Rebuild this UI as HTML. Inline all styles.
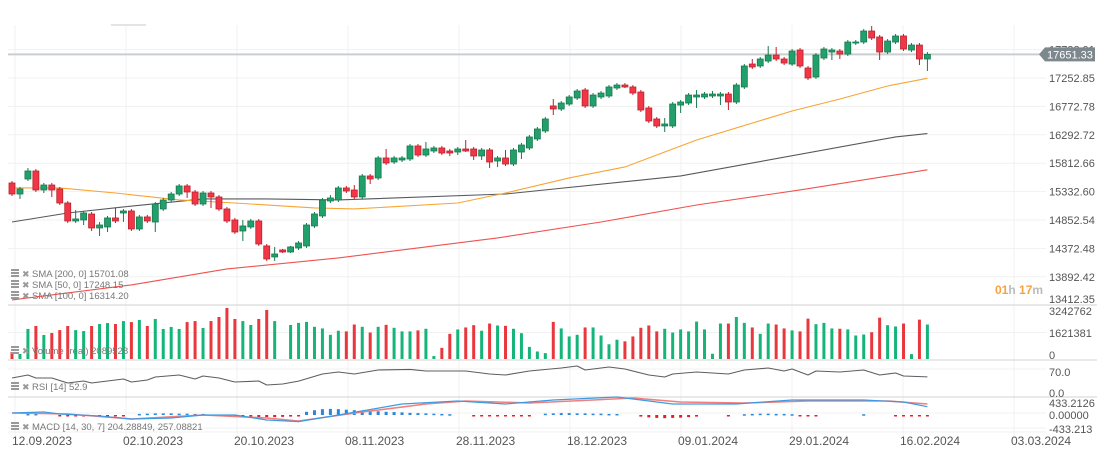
<!DOCTYPE html>
<html><head><meta charset="utf-8"><style>
html,body{margin:0;padding:0;background:#fff;}
svg{display:block;font-family:"Liberation Sans",sans-serif;}
</style></head><body>
<svg id="chart" width="1110" height="458" viewBox="0 0 1110 458" xmlns="http://www.w3.org/2000/svg">
<g id="grid"></g>
<g id="sma"></g>
<g id="candles"></g>
<g id="vol"></g>
<g id="rsi"></g>
<g id="macd"></g>
<g id="axis"></g>
<g id="legend"></g>
</svg>
<script>
const opens=[15478,15292,15546,15681,15360,15444,15377,15140,14836,14853,14954,14718,14735,14887,14971,15005,14701,14904,14819,15039,15191,15292,15428,15326,15123,15309,15242,15039,14853,14667,14735,14836,14414,14228,14346,14312,14380,14414,14752,14921,15174,15191,15394,15360,15242,15597,15563,15901,15833,15867,15884,16104,15951,16019,16070,16019,16002,16053,16053,15935,16036,15850,15901,15799,16002,16070,16222,16357,16780,16729,16813,16915,17050,16780,16932,16949,17084,17134,17101,17016,16746,16560,16442,16442,16796,16830,16932,16932,16949,16949,16982,16847,17101,17489,17456,17540,17641,17574,17489,17726,17422,17270,17591,17692,17709,17658,17844,17861,18047,17946,17692,17861,17963,17726,17810,17574];
const closes=[15292,15377,15681,15360,15444,15360,15140,14836,14870,14971,14718,14768,14887,14836,15005,14701,14904,14836,15123,15191,15292,15428,15326,15123,15309,15242,15039,14836,14650,14752,14836,14447,14194,14278,14312,14397,14464,14768,14954,15191,15225,15394,15343,15242,15597,15546,15901,15816,15901,15901,16104,15951,16053,16070,15985,15985,16053,16019,15935,16036,15833,15901,15799,16036,16120,16256,16391,16560,16729,16830,16932,17033,16780,16965,16999,17101,17134,17101,16999,16712,16526,16442,16475,16813,16847,16965,16965,16982,16982,16982,16847,17134,17456,17439,17574,17641,17574,17506,17709,17456,17253,17641,17743,17726,17658,17861,17861,18047,17929,17692,17878,17963,17743,17810,17574,17651.33];
const highs=[15512,15411,15732,15715,15478,15478,15411,15174,15022,15005,14988,14819,14921,15056,15039,15039,14938,14938,15157,15225,15326,15461,15461,15360,15343,15343,15275,15073,14887,14853,14870,14870,14447,14397,14363,14414,14498,14802,14988,15225,15275,15428,15428,15444,15630,15630,15935,16053,15935,15935,16137,16137,16171,16104,16104,16053,16087,16205,16087,16070,16070,15935,16036,16070,16154,16290,16425,16594,16898,16864,16965,17067,17084,16999,17033,17134,17168,17168,17134,17050,16780,16594,16577,16847,16881,16999,17050,17016,17033,17016,17016,17168,17489,17574,17608,17794,17777,17608,17743,17760,17456,17675,17777,17760,17743,17895,17895,18081,18132,17980,17912,17997,17997,17844,17844,17692];
const lows=[15259,15208,15512,15326,15309,15242,15106,14802,14802,14768,14667,14583,14650,14802,14819,14667,14667,14802,14650,15005,15157,15259,15225,15089,15089,15056,15005,14802,14617,14498,14701,14414,14160,14160,14295,14295,14346,14380,14718,14887,15140,15157,15309,15208,15208,15461,15529,15782,15799,15833,15850,15918,15918,15985,15951,15935,15951,16002,15867,15867,15732,15749,15766,15766,15884,16036,16188,16323,16627,16695,16780,16881,16746,16746,16898,16915,17050,17084,16965,16678,16492,16408,16340,16408,16661,16796,16746,16898,16915,16796,16712,16813,17067,17405,17422,17506,17540,17472,17456,17422,17219,17236,17557,17557,17574,17625,17810,17827,17895,17557,17658,17827,17709,17692,17472,17371];
const volumes=[428000,306000,1840000,2020000,1470000,1590000,1770000,2020000,1770000,1710000,2020000,2140000,2200000,2140000,2320000,2260000,2390000,2020000,2450000,1840000,1960000,1840000,2260000,2320000,1900000,2320000,2570000,3120000,2450000,2320000,2080000,2450000,3000000,2320000,0,2080000,2210000,2270000,1970000,1870000,1480000,1730000,1690000,2110000,1970000,1620000,1970000,2090000,1910000,1690000,1690000,1750000,1850000,180000,680000,1540000,1810000,1930000,2070000,1730000,2170000,2050000,2030000,1850000,1580000,740000,460000,360000,2270000,1870000,1380000,1480000,1930000,1930000,1440000,900000,1180000,1080000,1380000,1910000,2050000,1690000,1850000,1620000,1810000,1690000,2290000,1810000,320000,2170000,2170000,2570000,2210000,1930000,1540000,2170000,2110000,1870000,1750000,1690000,2470000,2130000,2210000,1870000,1850000,1810000,1440000,1500000,1640000,2530000,2070000,1990000,2170000,300000,2410000,2110000];
const sma50Idx=[0,6,13,21,28,38,43,56,62,70,77,84,86,98,104,110,115];
const sma50Val=[15394,15394,15309,15191,15140,15056,15039,15140,15309,15563,15749,16104,16205,16695,16898,17118,17248.15];
const sma100Idx=[0,7,14,24,32,41,62,84,111,115];
const sma100Val=[14819,14971,15073,15208,15208,15191,15292,15597,16256,16314.2];
const sma200Idx=[0,15,27,41,49,61,74,86,99,115];
const sma200Val=[13501,13755,14025,14211,14346,14549,14819,15106,15360,15701.08];
const rsiIdx=[0,2,3,5,7,9,10,12,14,15,17,18,21,23,24,26,28,31,32,34,36,39,41,43,46,50,52,57,60,62,65,69,71,72,75,77,80,82,83,86,90,92,95,97,98,100,101,104,107,109,111,112,115];
const rsiVal=[49,59.5,49,49,31.5,38.5,31.5,38.5,45.5,35,42,52.5,59.5,45.5,56,49,35,38.5,24.5,28,38,63,70,63,77,79,73.5,73.5,63,59.5,73.5,84,91,77,87.5,80.5,59.5,52.5,63,70,63,77,84,73.5,80.5,59.5,73.5,70,77,59.5,66.5,56,52.9];
const macdIdx=[0,4,6,11,15,20,24,28,32,36,41,49,56,62,68,76,83,91,98,107,112,115];
const macdVal=[75,113,38,-38,-151,-113,0,0,-189,-250,0,415,528,415,566,679,415,415,566,566,490,313];
const signalIdx=[0,7,15,24,32,36,44,52,57,65,73,78,84,92,100,110,115];
const signalVal=[75,38,-151,0,-113,-226,113,415,528,452,566,641,490,452,528,528,415];
const histVal=[0,0,40,40,0,0,-40,-40,-40,-40,-40,-40,-40,-40,-40,0,40,50,60,60,60,50,50,40,40,0,0,-40,-50,-60,-70,-80,-80,-80,-70,-60,-50,120,180,220,230,220,200,180,160,150,140,120,110,100,80,70,60,50,40,30,0,0,-30,-30,-30,-30,-30,-30,-30,-30,0,50,60,70,70,60,60,50,50,40,40,0,0,-60,-90,-110,-120,-110,-100,-80,-60,0,0,0,-30,0,30,40,50,50,40,40,30,-30,-30,-30,0,0,0,0,0,30,0,0,0,-40,-40,-40,-40,-50];
const priceTicks=[17732.91,17252.85,16772.78,16292.72,15812.66,15332.60,14852.54,14372.48,13892.42,13412.35];
const dateLabels=["12.09.2023","02.10.2023","20.10.2023","08.11.2023","28.11.2023","18.12.2023","09.01.2024","29.01.2024","16.02.2024","03.03.2024"];
const volTicks=[3242762,1621381,0];
const rsiTicks=[70,0];
const macdTicks=[433.2126,0,-433.213];
const macdTickText=["433.2126","0.00000","-433.213"];

const NS="http://www.w3.org/2000/svg";
function mk(tag,attrs,parent){const e=document.createElementNS(NS,tag);for(const k in attrs)e.setAttribute(k,attrs[k]);parent.appendChild(e);return e;}
const X=i=>12+i*7.96;
const Y=p=>78+(17252.85-p)/480.06*28.4;
const VY=v=>359-v/1621381*26.5;
const RY=r=>392-r*0.2857;
const MY=m=>415-m/37.7;
const GREEN="#22a06b",GREEN_D="#16794f",RED="#f23645",RED_D="#b8212f";
const G=id=>document.getElementById(id);

// grid
const grid=G('grid');
priceTicks.forEach(t=>{const l=mk('line',{x1:8,x2:1046,y1:Y(t),y2:Y(t),stroke:'#f1f1f1','stroke-width':1},grid);

});
dateLabels.forEach((d,k)=>{const x=15+k*111;const l=mk('line',{x1:x,x2:x,y1:25,y2:436,stroke:'#f0f0f0','stroke-width':1},grid);

});
[VY(1621381),369,413,428,432].forEach(y=>{const l=mk('line',{x1:8,x2:1046,y1:y,y2:y,stroke:'#f1f1f1','stroke-width':1},grid);

});
[305,360,397].forEach(y=>{const l=mk('line',{x1:8,x2:1097,y1:y,y2:y,stroke:'#dcdcdc','stroke-width':1.2},grid);

});
const tab=mk('rect',{x:111,y:24,width:35,height:2,fill:'#e4e4e4'},grid);


// current price line
const pl=mk('line',{x1:8,x2:1040,y1:Y(17651.33),y2:Y(17651.33),stroke:'#c9ced2','stroke-width':2},grid);



// sma lines
function line(idx,val,color,w,parent,name,yf){const pts=idx.map((i,k)=>X(i)+','+yf(val[k])).join(' ');
const p=mk('polyline',{points:pts,fill:'none',stroke:color,'stroke-width':w,'stroke-linejoin':'round'},parent);

return p;}
const sma=G('sma');
line(sma200Idx,sma200Val,'#ef5350',1.1,sma,'sma-200-line',Y);
line(sma100Idx,sma100Val,'#555a5e',1.1,sma,'sma-100-line',Y);
line(sma50Idx,sma50Val,'#f7a534',1.1,sma,'sma-50-line',Y);

// candles
const cg=G('candles');
opens.forEach((o,i)=>{const c=closes[i],up=c>=o,x=X(i);
const g=mk('g',{},cg);


mk('line',{x1:x,x2:x,y1:Y(highs[i]),y2:Y(lows[i]),stroke:up?GREEN_D:RED_D,'stroke-width':1},g);
const t=Math.min(Y(o),Y(c)),h=Math.max(1,Math.abs(Y(o)-Y(c)));
mk('rect',{x:x-3,y:t,width:6,height:h,fill:up?GREEN:RED,stroke:up?GREEN_D:RED_D,'stroke-width':0.8},g);});

// volume
const vg=G('vol');
volumes.forEach((v,i)=>{if(v<=0)return;const up=closes[i]>=opens[i];
const r=mk('rect',{x:X(i)-1.5,y:VY(v),width:3,height:359-VY(v),fill:up?'#15b57a':'#e8383d'},vg);

});

// rsi
line(rsiIdx,rsiVal,'#5a5f63',1.1,G('rsi'),'rsi-line',RY);

// macd
const mg=G('macd');
histVal.forEach((h,i)=>{if(h===0)return;const y0=MY(0),y1=MY(h);
const r=mk('rect',{x:X(i)-1.5,y:Math.min(y0,y1),width:3,height:Math.max(1.5,Math.abs(y1-y0)),fill:h>0?'#2a86d8':'#e0202a'},mg);

});
line(signalIdx,signalVal,'#f08080',1.6,mg,'macd-signal-line',MY);
line(macdIdx,macdVal,'#3d9ae0',1.2,mg,'macd-line',MY);

// axes
const ax=G('axis');
function txt(x,y,s,attrs,name,parent){const t=mk('text',Object.assign({x:x,y:y},attrs),parent||ax);t.textContent=s;

return t;}
priceTicks.forEach((t,k)=>{const y=k===priceTicks.length-1?303:Y(t)+4;txt(1049,y,t.toFixed(2),{'font-size':11,fill:'#555'},'price-tick-label');});
volTicks.forEach((v,k)=>{txt(1049,[315,337,359][k],String(v),{'font-size':11,fill:'#555'},'volume-tick-label');});
rsiTicks.forEach((r,k)=>{txt(1049,[376,397][k],r.toFixed(1),{'font-size':11,fill:'#555'},'rsi-tick-label');});
macdTicks.forEach((m,k)=>{txt(1049,[407,419,433][k],macdTickText[k],{'font-size':11,fill:'#555'},'macd-tick-label');});
dateLabels.forEach((d,k)=>{txt(12+k*111,445,d,{'font-size':12,fill:'#555'},'date-label');});
// price tag
const tag=mk('g',{},ax);


const py=Y(17651.33);
mk('polygon',{points:`1039,${py} 1045,${py-7} 1095,${py-7} 1095,${py+7} 1045,${py+7}`,fill:'#7d878e'},tag);
txt(1047,py+4,'17651.33',{'font-size':11,fill:'#fff'},'current-price-value',tag);
// countdown
const cd=mk('text',{x:995,y:294,'font-size':12,'font-weight':'bold'},ax);


cd.innerHTML='<tspan fill="#f5a33a">01</tspan><tspan fill="#bbb">h </tspan><tspan fill="#f5a33a">17</tspan><tspan fill="#bbb">m</tspan>';

// legend
const lg=G('legend');
function legend(y,s,name){const g=mk('g',{},lg);


mk('rect',{x:11,y:y-8,width:8,height:2,fill:'#999'},g);mk('rect',{x:11,y:y-5,width:8,height:2,fill:'#999'},g);mk('rect',{x:11,y:y-2,width:8,height:2,fill:'#999'},g);
const x=mk('text',{x:22,y:y,'font-size':9,fill:'#999'},g);x.textContent='✖';
const t=mk('text',{x:32,y:y,'font-size':9.5,fill:'#777'},g);t.textContent=s;}
legend(277,'SMA [200, 0] 15701.08','legend-sma-200');
legend(288,'SMA [50, 0] 17248.15','legend-sma-50');
legend(299,'SMA [100, 0] 16314.20','legend-sma-100');
legend(354,'Volume (real) 2089528','legend-volume');
legend(390,'RSI [14] 52.9','legend-rsi');
legend(430,'MACD [14, 30, 7] 204.28849, 257.08821','legend-macd');
</script>
</body></html>
